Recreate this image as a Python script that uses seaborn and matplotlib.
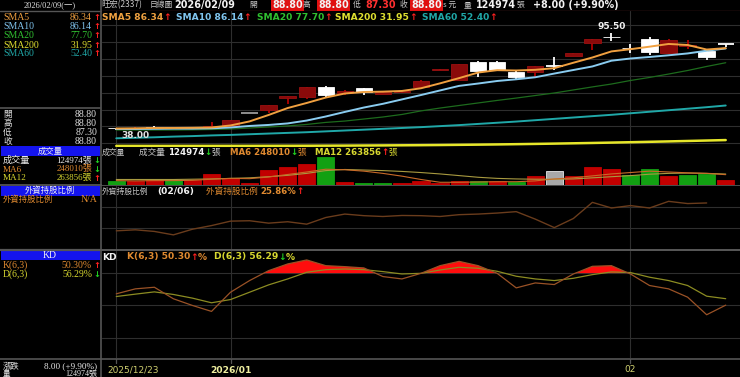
import numpy as np
import pandas as pd
import matplotlib
matplotlib.use("Agg")
import matplotlib.pyplot as plt
from matplotlib.patches import Rectangle
import seaborn as sns

# ---------------- data ----------------
dates = ["2025/12/23", "2025/12/24", "2025/12/26", "2025/12/29", "2025/12/30", "2025/12/31",
         "2026/01/02", "2026/01/05", "2026/01/06", "2026/01/07", "2026/01/08", "2026/01/09",
         "2026/01/12", "2026/01/13", "2026/01/14", "2026/01/15", "2026/01/16",
         "2026/01/19", "2026/01/20", "2026/01/21", "2026/01/22", "2026/01/23",
         "2026/01/26", "2026/01/27", "2026/01/28", "2026/01/29", "2026/01/30",
         "2026/02/02", "2026/02/03", "2026/02/04", "2026/02/05", "2026/02/06", "2026/02/09"]
opens = [39.0, 38.9, 39.8, 39.5, 39.2, 39.5, 40.5, 48.15, 49.8, 57.0, 57.3, 63.2, 60.0, 62.6, 59.3,
         60.4, 63.5, 73.4, 67.5, 78.3, 78.3, 72.4, 72.4, 75.8, 81.7, 89.2, 93.1, 86.4, 91.6, 83.3,
         87.8, 84.8, 88.8]
highs = [39.3, 39.5, 40.0, 39.7, 39.6, 42.8, 43.9, 48.15, 52.9, 58.1, 63.4, 64.0, 61.4, 62.8, 61.0,
         61.5, 67.3, 73.8, 77.2, 78.5, 78.5, 72.6, 76.0, 80.9, 83.5, 92.0, 95.5, 88.8, 93.1, 91.8,
         91.2, 85.0, 88.8]
lows = [38.0, 38.7, 39.1, 39.0, 39.0, 39.3, 40.3, 48.15, 48.0, 53.0, 56.4, 57.0, 58.6, 58.6, 59.2,
        60.0, 63.2, 73.3, 67.3, 69.1, 73.2, 67.9, 69.5, 73.4, 81.5, 85.2, 90.8, 83.7, 82.3, 83.0,
        86.0, 79.3, 87.3]
closes = [38.8, 39.2, 39.3, 39.2, 39.4, 40.0, 43.8, 48.15, 52.9, 58.1, 63.2, 58.6, 61.2, 60.6, 60.4,
          61.2, 67.1, 73.8, 77.0, 73.0, 73.4, 69.5, 75.8, 75.8, 83.3, 91.6, 93.0, 86.2, 84.2, 91.0,
          88.3, 80.8, 88.8]
sma5 = [38.8, 38.9, 39.1, 39.1, 39.2, 39.4, 40.6, 43.0, 46.8, 50.9, 53.9, 57.1, 59.5, 60.4, 60.6,
        61.0, 62.6, 65.5, 68.6, 71.9, 73.3, 73.1, 73.5, 74.5, 77.7, 80.8, 84.4, 85.7, 87.2, 88.8,
        88.2, 85.5, 86.34]
sma10 = [38.5, 38.5, 38.6, 38.7, 38.7, 38.9, 39.4, 40.3, 40.9, 41.8, 43.5, 45.9, 48.6, 51.2, 53.4,
         56.0, 58.6, 61.3, 64.0, 65.4, 66.9, 67.9, 69.1, 71.3, 73.4, 75.5, 78.9, 80.2, 81.1, 82.1,
         83.2, 84.8, 86.14]
sma20 = [37.9, 37.9, 37.9, 37.9, 38.0, 38.2, 38.5, 39.1, 39.7, 40.3, 41.2, 42.4, 43.2, 44.4, 45.6,
         47.1, 49.2, 50.9, 52.4, 53.9, 55.4, 56.8, 58.3, 59.8, 61.6, 63.4, 65.1, 67.2, 69.0, 71.0,
         73.1, 75.5, 77.70]
sma200 = [28.50, 28.50, 28.50, 28.50, 28.51, 28.51, 28.52, 28.53, 28.55, 28.57, 28.59, 28.63, 28.67,
          28.73, 28.79, 28.86, 28.93, 29.02, 29.13, 29.24, 29.37, 29.52, 29.68, 29.85, 30.04, 30.24,
          30.46, 30.68, 30.92, 31.16, 31.42, 31.68, 31.95]
sma60 = [33.0, 33.3, 33.6, 34.0, 34.3, 34.7, 35.0, 35.4, 35.8, 36.2, 36.6, 37.1, 37.6, 38.1, 38.6,
         39.1, 39.6, 40.2, 40.8, 41.5, 42.2, 42.9, 43.7, 44.5, 45.3, 46.1, 46.9, 47.8, 48.7, 49.6,
         50.5, 51.4, 52.40]
volume = [91000, 77000, 126000, 112000, 112000, 259000, 175000, 42000, 364000, 448000, 511000,
          700000, 70000, 42000, 35000, 42000, 84000, 49000, 84000, 98000, 84000, 70000, 203000,
          336000, 203000, 448000, 385000, 238000, 385000, 217000, 238000, 252000, 124974]
vol_ma6 = [98000, 91000, 98000, 98000, 105000, 133000, 154000, 147000, 189000, 252000, 315000,
           385000, 371000, 336000, 280000, 210000, 126000, 56000, 56000, 63000, 70000, 70000, 91000,
           140000, 168000, 217000, 266000, 301000, 336000, 315000, 294000, 280000, 248010]
vol_ma12 = [126000, 126000, 126000, 126000, 133000, 140000, 154000, 168000, 196000, 231000, 280000,
            350000, 378000, 364000, 350000, 329000, 301000, 266000, 224000, 182000, 154000, 140000,
            133000, 133000, 140000, 168000, 196000, 224000, 259000, 280000, 287000, 280000, 263856]
foreign_pct = [24.48, 24.53, 24.45, 24.28, 24.56, 24.74, 24.96, 24.98, 24.86, 24.93, 24.81, 25.14,
               25.31, 25.23, 25.19, 25.24, 25.23, 25.19, 25.28, 25.31, 25.36, 25.43, 25.06, 24.64,
               25.09, 25.89, 25.61, 25.73, 25.61, 25.94, 25.83, 25.86]
k_vals = [60.8, 65.4, 66.9, 56.2, 50.0, 44.5, 62.3, 73.1, 82.3, 88.5, 92.2, 86.9, 86.0, 84.8, 76.8,
          74.6, 79.8, 86.9, 90.9, 86.9, 79.8, 66.3, 70.9, 69.4, 79.2, 86.3, 86.9, 79.2, 68.5, 65.4,
          57.7, 41.4, 50.30]
d_vals = [58.3, 60.5, 62.6, 60.2, 56.8, 52.5, 55.5, 62.3, 69.1, 74.6, 80.8, 83.2, 83.8, 83.2, 81.4,
          79.2, 79.8, 82.9, 85.4, 84.5, 81.7, 77.1, 74.6, 73.1, 75.2, 78.6, 81.1, 80.5, 76.2, 73.1,
          68.5, 58.6, 56.29]
tick_dates = ["2025/12/23", "2026/01/02", "2026/02/02"]
tick_labels = ["2025/12/23", "2026/01", "02"]
price_grid = [30, 40, 50, 60, 70, 80, 90, 100]
foreign_grid = [24.61, 25.66]
kd_grid = [20, 50, 80]

# ---------------- setup ----------------
sns.set_theme(style="dark")
SANS = ["DejaVu Sans", "Noto Sans CJK TC"]
CJK = ["Noto Sans CJK TC", "DejaVu Sans"]
SERIF = ["Liberation Serif", "Noto Sans CJK TC", "DejaVu Sans"]
plt.rcParams["font.family"] = SANS
plt.rcParams["axes.facecolor"] = "black"
plt.rcParams["figure.facecolor"] = "black"

W, H = 740, 377
fig = plt.figure(figsize=(W / 100, H / 100), dpi=100, facecolor="black")
R = fig.canvas.get_renderer()

n = len(dates)
idx = np.arange(n)
GRID = "#2e2e2e"
XL = (-0.75, 32.75)

bg = fig.add_axes([0, 0, 1, 1], zorder=0)
bg.set_xlim(0, W)
bg.set_ylim(H, 0)
bg.axis("off")


def add_ax(x0, y0, x1, y1):
    a = fig.add_axes([x0 / W, 1 - y1 / H, (x1 - x0) / W, (y1 - y0) / H], zorder=1)
    a.set_facecolor("black")
    a.set_xlim(*XL)
    a.set_xticks([])
    a.set_yticks([])
    for s in a.spines.values():
        s.set_visible(False)
    a.grid(False)
    return a


def clean(a):
    a.set_xlabel("")
    a.set_ylabel("")
    a.set_xticks([])
    a.set_yticks([])
    a.set_xlim(*XL)


tick_pos = [dates.index(d) for d in tick_dates]

ax_p = add_ax(102, 11, 740, 147)
ax_v = add_ax(102, 147, 740, 184.5)
ax_f = add_ax(102, 186, 740, 249)
ax_k = add_ax(102, 251, 740, 358)

for a in (ax_p, ax_v, ax_f, ax_k):
    for t in tick_pos:
        a.axvline(t, color=GRID, lw=0.8, zorder=0)

# ---------------- price panel ----------------
for g in price_grid:
    ax_p.axhline(g, color=GRID, lw=0.8, zorder=0)

BW = 0.86
for i in range(n):
    o, h, l, c = opens[i], highs[i], lows[i], closes[i]
    if h == l:
        ax_p.hlines(c, i - BW / 2, i + BW / 2, color="#9a9a9a", lw=1.3, zorder=2)
        continue
    if c > o:
        ax_p.vlines(i, l, h, color="#b00000", lw=1.3, zorder=2)
        ax_p.bar(i, c - o, bottom=o, width=BW, color="#8a0a0a", edgecolor="#9c1010", lw=0.6, zorder=3)
    elif c < o:
        ax_p.vlines(i, l, h, color="white", lw=1.3, zorder=2)
        ax_p.bar(i, o - c, bottom=c, width=BW, color="white", edgecolor="white", lw=0.6, zorder=3)
    else:
        ax_p.vlines(i, l, h, color="white", lw=1.3, zorder=2)
        ax_p.hlines(c, i - BW / 2, i + BW / 2, color="white", lw=1.3, zorder=3)

for vals, col, lw in [(sma200, "#e6e62a", 1.8), (sma60, "#20a8a8", 1.4), (sma20, "#1d6b1d", 0.9),
                      (sma10, "#8accf0", 1.4), (sma5, "#f0a040", 1.4)]:
    sns.lineplot(x=idx, y=vals, ax=ax_p, color=col, linewidth=lw, zorder=4)
clean(ax_p)
ax_p.set_ylim(27.85, 108.3)

hi_i = int(np.argmax(highs))
lo_i = int(np.argmin(lows))
ax_p.annotate(f"{highs[hi_i]:.2f}", (hi_i, highs[hi_i]), xytext=(0, 1.5), textcoords="offset points",
              ha="center", va="bottom", color="#f0f0f0", fontsize=6.5, fontweight="bold", zorder=6)
ax_p.annotate(f"{lows[lo_i]:.2f}", (lo_i, lows[lo_i]), xytext=(4, -0.5), textcoords="offset points",
              ha="left", va="top", color="#e0e0e0", fontsize=6.5, fontweight="bold", zorder=6)

# ---------------- volume panel ----------------
vcols, vedges = [], []
prev = [opens[0]] + closes[:-1]
for i in range(n):
    if closes[i] > prev[i]:
        vcols.append("#c20000"); vedges.append("#c20000")
    elif closes[i] < prev[i]:
        vcols.append("#12a012"); vedges.append("#12a012")
    else:
        vcols.append("#a8a8a8"); vedges.append("#e8e8e8")
ax_v.bar(idx, volume, width=0.9, color=vcols, edgecolor=vedges, lw=0.6, zorder=2)
sns.lineplot(x=idx, y=vol_ma12, ax=ax_v, color="#a89a40", linewidth=0.8, zorder=3)
sns.lineplot(x=idx, y=vol_ma6, ax=ax_v, color="#c86a28", linewidth=0.8, zorder=3)
clean(ax_v)
ax_v.set_ylim(0, 944000)

# ---------------- foreign holding panel ----------------
for g in foreign_grid:
    ax_f.axhline(g, color=GRID, lw=0.8, zorder=0)
sns.lineplot(x=idx[:len(foreign_pct)], y=foreign_pct, ax=ax_f, color="#6a3c1c", linewidth=1.0, zorder=3)
clean(ax_f)
ax_f.set_ylim(23.58, 26.70)

# ---------------- KD panel ----------------
for g in kd_grid:
    ax_k.axhline(g, color=GRID, lw=0.8, zorder=0)
kk = np.array(k_vals)
ax_k.fill_between(idx, 80, kk, where=kk > 80, interpolate=True, color="#ff0d0d", lw=0, zorder=2)
sns.lineplot(x=idx, y=d_vals, ax=ax_k, color="#8c8c22", linewidth=0.9, zorder=3)
sns.lineplot(x=idx, y=k_vals, ax=ax_k, color="#9a5226", linewidth=0.9, zorder=3)
clean(ax_k)
ax_k.set_ylim(1.3, 100.5)

# ---------------- frame lines ----------------
LINE = "#555555"
bg.plot([0, 101], [10.5, 10.5], color=LINE, lw=1)
bg.plot([101, W], [10.5, 10.5], color="#5a2020", lw=1)
bg.plot([100.5, 100.5], [0, H], color=LINE, lw=1.2)
bg.plot([0, 100], [107.5, 107.5], color=LINE, lw=1.2)
bg.plot([0, W], [185.2, 185.2], color=LINE, lw=1.3)
bg.plot([0, W], [250, 250], color=LINE, lw=1.6)
bg.plot([0, W], [358.6, 358.6], color=LINE, lw=1.2)
for t in tick_pos:
    xp = 102 + (t - XL[0]) / (XL[1] - XL[0]) * 638
    bg.plot([xp, xp], [358.6, 363], color=LINE, lw=0.9)
for (y0, y1) in [(146, 156), (186, 195.5), (250.8, 260)]:
    bg.add_patch(Rectangle((1, y0), 98.5, y1 - y0, color="#1414ee", lw=0))


# ---------------- text helpers ----------------
def put(x, y, s, color, size=6.5, weight="normal", ha="left", fam=None, **kw):
    return fig.text(x / W, 1 - y / H, s, color=color, fontsize=size, fontweight=weight,
                    ha=ha, va="center", family=fam or SANS, zorder=5, **kw)


def seq(x, y, pieces, size=6.5, fam=None):
    for s, color, weight in pieces:
        t = put(x, y, s, color, size, weight, fam=fam)
        x += t.get_window_extent(renderer=R).width
    return x


UP, DN = "#ff2020", "#20d020"
ORG, YEL, WHT, GRY = "#e08a30", "#d8d830", "#f2f2f2", "#c8c8c8"
CJ = 5.6   # CJK glyph size in the header / legends

# header
put(50, 5, "2026/02/09(一)", "#e0e0e0", 6.0, ha="center", fam=SERIF)
put(101, 5, "旺宏(2337)", GRY, 6.0, fam=CJK)
put(150, 5, "日線圖", GRY, CJ, fam=CJK)
put(174, 5, "2026/02/09", WHT, 6.9, "bold")
put(249, 5, "開", GRY, CJ, fam=CJK)
red_box = dict(facecolor="#e01010", edgecolor="none", pad=0.6)
put(272, 5, "88.80", WHT, 6.9, "bold", bbox=red_box)
put(303, 5, "高", GRY, CJ, fam=CJK)
put(318, 5, "88.80", WHT, 6.9, "bold", bbox=red_box)
put(353, 5, "低", GRY, CJ, fam=CJK)
put(365, 5, "87.30", "#ff3030", 6.9, "bold")
put(400, 5, "收", GRY, CJ, fam=CJK)
put(411, 5, "88.80", WHT, 6.9, "bold", bbox=red_box)
put(443, 5, "s 元", GRY, CJ, fam=CJK)
put(464, 5, "量", GRY, CJ, fam=CJK)
put(476, 5, "124974", WHT, 6.9, "bold")
put(517, 5, "張", GRY, CJ, fam=CJK)
put(533, 5, "+8.00 (+9.90%)", WHT, 6.9, "bold")

# price legend
sma_info = [("SMA5", "86.34", "#f0a040", 102), ("SMA10", "86.14", "#80c4ee", 176),
            ("SMA20", "77.70", "#30c030", 257), ("SMA200", "31.95", "#e0e030", 335),
            ("SMA60", "52.40", "#20a8a8", 422)]
for name, val, col, x in sma_info:
    seq(x, 17, [(f"{name} {val}", col, "bold"), ("↑", UP, "bold")], size=6.6)

# left: SMA rows
for (name, val, col, _), y in zip(sma_info, [17.3, 26.7, 36, 45, 54]):
    put(3, y, name, col, 7, fam=SERIF)
    put(92, y, val, col, 7, ha="right", fam=SERIF)
    put(93, y, "↑", UP, 6, "bold")

for lab, val, y in [("開", "88.80", 114.5), ("高", "88.80", 123.3), ("低", "87.30", 132.3), ("收", "88.80", 141.5)]:
    put(3, y, lab, "#e0e0e0", 6.2, fam=CJK)
    put(97, y, val, "#e0e0e0", 7, ha="right", fam=SERIF)

put(50, 151, "成交量", WHT, 6.0, ha="center", fam=CJK)
rows = [("成交量", "124974張", "#e8e8e8", "↓", DN, 160.5), ("MA6", "248010張", ORG, "↓", DN, 169.5),
        ("MA12", "263856張", YEL, "↑", UP, 178.3)]
for lab, val, col, arr, acol, y in rows:
    put(3, y, lab, col, 6.6, fam=SERIF)
    put(92, y, val, col, 6.4, ha="right", fam=SERIF)
    put(93, y, arr, acol, 6, "bold")

put(50, 190.5, "外資持股比例", WHT, 6.0, ha="center", fam=CJK)
put(3, 199.5, "外資持股比例", ORG, 6.0, fam=CJK)
put(97, 199.5, "N/A", ORG, 7, ha="right", fam=SERIF)

put(50, 255.5, "KD", WHT, 7, ha="center", fam=SERIF)
put(3, 265.3, "K(6,3)", ORG, 7, fam=SERIF)
put(92, 265.3, "50.30%", ORG, 7, ha="right", fam=SERIF)
put(93, 265.3, "↑", UP, 6, "bold")
put(3, 274.3, "D(6,3)", YEL, 7, fam=SERIF)
put(92, 274.3, "56.29%", YEL, 7, ha="right", fam=SERIF)
put(93, 274.3, "↓", DN, 6, "bold")

put(3, 366.5, "漲跌", "#e8e8e8", 6.0, fam=CJK)
put(97, 366.5, "8.00 (+9.90%)", "#e8e8e8", 6.6, ha="right", fam=SERIF)
put(3, 374.2, "量", "#e8e8e8", 5.4, fam=CJK)
put(97, 374.2, "124974張", "#e8e8e8", 5.8, ha="right", fam=SERIF)

# volume legend
put(102, 152.5, "成交量", GRY, CJ, fam=CJK)
seq(139, 152.5, [("成交量 ", GRY, "normal"), ("124974", WHT, "bold"), ("↓", DN, "bold"), ("張", GRY, "normal")], size=6.2)
seq(230, 152.5, [("MA6 248010", ORG, "bold"), ("↓", DN, "bold"), ("張", ORG, "normal")], size=6.2)
seq(315, 152.5, [("MA12 263856", YEL, "bold"), ("↑", UP, "bold"), ("張", YEL, "normal")], size=6.2)

# foreign legend
put(102, 191.5, "外資持股比例", GRY, CJ, fam=CJK)
put(157, 191.5, "(02/06)", WHT, 6.6, "bold")
seq(206, 191.5, [("外資持股比例 ", ORG, "normal"), ("25.86%", ORG, "bold"), ("↑", UP, "bold")], size=6.2)

# KD legend
put(102, 257, "KD", WHT, 6.6, "bold")
seq(127, 257, [("K(6,3) 50.30", ORG, "bold"), ("↑", UP, "bold"), ("%", ORG, "bold")], size=6.6)
seq(214, 257, [("D(6,3) 56.29", YEL, "bold"), ("↓", DN, "bold"), ("%", YEL, "bold")], size=6.6)

# date labels
for t, lab in zip(tick_pos, tick_labels):
    xp = 102 + (t - XL[0]) / (XL[1] - XL[0]) * 638
    if t == tick_pos[0]:
        put(107, 370, lab, "#d0d070", 6.5)
    elif lab.startswith("20"):
        put(xp, 370, lab, "#f0f0a0", 6.6, "bold", ha="center")
    else:
        put(xp, 370, lab, "#d0d070", 6.5, ha="center")

fig.savefig("out.png", dpi=100, facecolor="black")
